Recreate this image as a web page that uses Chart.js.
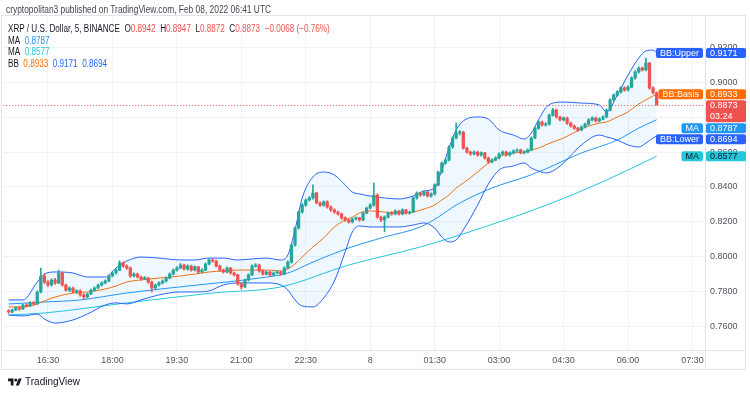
<!DOCTYPE html>
<html>
<head>
<meta charset="utf-8">
<title>XRP / U.S. Dollar, 5, BINANCE</title>
<script src="https://cdn.jsdelivr.net/npm/chart.js@4.4.1/dist/chart.umd.min.js"></script>
<style>
  html, body { margin: 0; padding: 0; background: #fff; }
  #wrap { position: relative; width: 750px; height: 394px; overflow: hidden; font-family: 'Liberation Sans', Arial, sans-serif; }
  #chart { position: absolute; left: 0; top: 0; }
  .txt { position: absolute; white-space: nowrap; transform-origin: 0 50%; color: #131722; font-size: 10px; line-height: 12px; }
  .dn { color: #ef5350; }
  .ma1 { color: #2196f3; }
  .ma2 { color: #26c6da; }
  .bbb { color: #ff6d00; }
  .bbu { color: #2962ff; }
  #brand { position: absolute; left: 8px; top: 376px; display: flex; align-items: center; gap: 3px; font-size: 10px; color: #131722; }
</style>
</head>
<body>
<div id="wrap">
  <canvas id="chart" width="750" height="394"></canvas>
  <div id="published" class="txt" style="left:6px;top:4px;color:#434651">cryptopolitan3 published on TradingView.com, Feb 08, 2022 06:41 UTC</div>
  <div id="leg1" class="txt" style="left:8px;top:22.5px">XRP / U.S. Dollar, 5, BINANCE&nbsp;&nbsp;O<span class="dn">0.8942</span>&nbsp;&nbsp;H<span class="dn">0.8947</span>&nbsp;&nbsp;L<span class="dn">0.8872</span>&nbsp;&nbsp;C<span class="dn">0.8873</span>&nbsp;&nbsp;<span class="dn">−0.0068 (−0.76%)</span></div>
  <div id="leg2" class="txt" style="left:8px;top:34.7px">MA&nbsp;&nbsp;<span class="ma1">0.8787</span></div>
  <div id="leg3" class="txt" style="left:8px;top:46.3px">MA&nbsp;&nbsp;<span class="ma2">0.8577</span></div>
  <div id="leg4" class="txt" style="left:8px;top:58px">BB&nbsp;&nbsp;<span class="bbb">0.8933</span>&nbsp;&nbsp;<span class="bbu">0.9171</span>&nbsp;&nbsp;<span class="bbu">0.8694</span></div>
  <div id="brand">
    <svg width="14" height="10" viewBox="0 0 36 26"><path d="M14 22H7V11H0V4h14v18z" fill="#131722"/><circle cx="20" cy="8" r="4" fill="#131722"/><path d="M28 22h-8l7.5-18h8L28 22z" fill="#131722"/></svg>
    <span>TradingView</span>
  </div>
</div>

<script>
// ── Candles (5 min bars, 15:35 → 06:40) ──
const opens = [
  .7686,.7681,.7692,.7704,.7698,.7721,.7715,.7733,.7727,.7796,
  .7888,.7853,.7836,.7865,.7848,.7905,.7836,.7807,.7819,.7796,
  .7802,.7779,.7767,.7784,.7807,.7819,.7836,.7848,.7859,.7888,
  .7905,.7922,.7963,.7945,.7934,.7888,.7899,.7882,.7871,.7876,
  .7853,.7819,.7836,.7848,.7859,.7876,.7899,.7922,.7934,.7951,
  .7928,.7945,.7922,.7940,.7911,.7922,.7957,.7980,.7974,.7945,
  .7922,.7911,.7934,.7905,.7894,.7842,.7825,.7865,.7894,.7945,
  .7951,.7917,.7899,.7911,.7894,.7905,.7911,.7899,.7934,.7968,
  .8066,.8164,.8256,.8296,.8325,.8337,.8365,.8308,.8296,.8314,
  .8285,.8268,.8256,.8245,.8222,.8210,.8199,.8216,.8222,.8210,
  .8250,.8279,.8296,.8354,.8227,.8210,.8227,.8250,.8245,.8262,
  .8245,.8268,.8250,.8256,.8337,.8365,.8354,.8371,.8348,.8360,
  .8412,.8486,.8538,.8555,.8630,.8682,.8711,.8716,.8624,.8601,
  .8590,.8601,.8584,.8596,.8567,.8544,.8555,.8567,.8590,.8601,
  .8584,.8596,.8607,.8613,.8596,.8601,.8613,.8682,.8739,.8774,
  .8757,.8762,.8814,.8843,.8803,.8786,.8797,.8768,.8751,.8739,
  .8728,.8745,.8762,.8786,.8797,.8780,.8791,.8803,.8843,.8901,
  .8929,.8947,.8970,.8958,.8975,.9027,.9062,.9085,.9073,.9113,
  .8970,.8942
];
const highs = [
  .7694,.7698,.7710,.7712,.7726,.7729,.7740,.7741,.7802,.7934,
  .7899,.7862,.7871,.7874,.7922,.7910,.7842,.7826,.7824,.7810,
  .7808,.7785,.7790,.7812,.7825,.7841,.7855,.7866,.7894,.7912,
  .7930,.7975,.7970,.7952,.7940,.7906,.7905,.7888,.7884,.7880,
  .7858,.7842,.7855,.7866,.7882,.7906,.7928,.7942,.7960,.7956,
  .7952,.7950,.7947,.7944,.7930,.7964,.7988,.7986,.7979,.7950,
  .7928,.7940,.7938,.7910,.7898,.7848,.7870,.7900,.7952,.7960,
  .7956,.7922,.7918,.7915,.7912,.7918,.7915,.7940,.7975,.8072,
  .8170,.8262,.8305,.8332,.8345,.8412,.8370,.8314,.8320,.8320,
  .8292,.8274,.8262,.8250,.8228,.8216,.8222,.8228,.8226,.8256,
  .8285,.8304,.8423,.8360,.8232,.8234,.8256,.8258,.8268,.8266,
  .8274,.8272,.8262,.8344,.8372,.8370,.8378,.8375,.8366,.8418,
  .8492,.8545,.8562,.8638,.8690,.8768,.8724,.8720,.8630,.8606,
  .8608,.8606,.8602,.8600,.8572,.8562,.8574,.8596,.8608,.8606,
  .8603,.8614,.8620,.8618,.8608,.8620,.8688,.8746,.8782,.8780,
  .8770,.8820,.8852,.8848,.8808,.8804,.8802,.8774,.8756,.8744,
  .8752,.8768,.8792,.8804,.8802,.8798,.8810,.8850,.8908,.8936,
  .8955,.8978,.8976,.8982,.9034,.9070,.9092,.9090,.9142,.9118,
  .8976,.8947
];
const lows = [
  .7672,.7676,.7688,.7690,.7694,.7708,.7711,.7720,.7724,.7790,
  .7845,.7828,.7830,.7840,.7843,.7830,.7800,.7798,.7790,.7788,
  .7772,.7758,.7762,.7780,.7801,.7815,.7830,.7842,.7855,.7882,
  .7898,.7918,.7938,.7926,.7880,.7882,.7876,.7864,.7866,.7846,
  .7796,.7812,.7830,.7842,.7853,.7871,.7894,.7916,.7928,.7921,
  .7922,.7916,.7917,.7905,.7906,.7918,.7952,.7966,.7940,.7915,
  .7904,.7906,.7898,.7888,.7835,.7812,.7820,.7860,.7890,.7938,
  .7910,.7892,.7894,.7888,.7890,.7900,.7892,.7895,.7930,.7962,
  .8060,.8158,.8250,.8290,.8318,.8330,.8302,.8288,.8290,.8278,
  .8260,.8248,.8238,.8215,.8202,.8192,.8194,.8210,.8204,.8206,
  .8246,.8274,.8290,.8220,.8200,.8141,.8222,.8238,.8240,.8238,
  .8240,.8244,.8244,.8252,.8330,.8346,.8348,.8342,.8342,.8355,
  .8406,.8480,.8530,.8550,.8624,.8676,.8700,.8618,.8594,.8582,
  .8584,.8578,.8578,.8560,.8536,.8538,.8550,.8562,.8584,.8578,
  .8578,.8590,.8600,.8590,.8590,.8596,.8608,.8676,.8732,.8750,
  .8750,.8756,.8808,.8796,.8780,.8780,.8760,.8744,.8732,.8720,
  .8722,.8740,.8756,.8780,.8774,.8774,.8786,.8798,.8838,.8895,
  .8922,.8940,.8950,.8952,.8970,.9020,.9055,.9066,.9068,.8962,
  .8936,.8872
];
const closes = [
  .7681,.7692,.7704,.7698,.7721,.7715,.7733,.7727,.7796,.7888,
  .7853,.7836,.7865,.7848,.7905,.7836,.7807,.7819,.7796,.7802,
  .7779,.7767,.7784,.7807,.7819,.7836,.7848,.7859,.7888,.7905,
  .7922,.7963,.7945,.7934,.7888,.7899,.7882,.7871,.7876,.7853,
  .7819,.7836,.7848,.7859,.7876,.7899,.7922,.7934,.7951,.7928,
  .7945,.7922,.7940,.7911,.7922,.7957,.7980,.7974,.7945,.7922,
  .7911,.7934,.7905,.7894,.7842,.7825,.7865,.7894,.7945,.7951,
  .7917,.7899,.7911,.7894,.7905,.7911,.7899,.7934,.7968,.8066,
  .8164,.8256,.8296,.8325,.8337,.8365,.8308,.8296,.8314,.8285,
  .8268,.8256,.8245,.8222,.8210,.8199,.8216,.8222,.8210,.8250,
  .8279,.8296,.8354,.8227,.8210,.8227,.8250,.8245,.8262,.8245,
  .8268,.8250,.8256,.8337,.8365,.8354,.8371,.8348,.8360,.8412,
  .8486,.8538,.8555,.8630,.8682,.8711,.8716,.8624,.8601,.8590,
  .8601,.8584,.8596,.8567,.8544,.8555,.8567,.8590,.8601,.8584,
  .8596,.8607,.8613,.8596,.8601,.8613,.8682,.8739,.8774,.8757,
  .8762,.8814,.8843,.8803,.8786,.8797,.8768,.8751,.8739,.8728,
  .8745,.8762,.8786,.8797,.8780,.8791,.8803,.8843,.8901,.8929,
  .8947,.8970,.8958,.8975,.9027,.9062,.9085,.9073,.9113,.8970,
  .8942,.8873
];

// ── Bollinger Bands (read at these bar indices) ──
const bbIdx   = [0,4,8,10,13,18,22,27,30,33,37,42,48,52,56,60,64,68,72,76,78,80,82,85,88,91,94,96,98,101,105,109,113,116,119,121,123,125,127,131,134,137,141,144,146,148,150,152,155,160,165,167,170,173,176,178,180,181];
const bbUpper = [.7750,.7750,.7853,.7899,.7911,.7905,.7882,.7882,.7934,.7974,.7997,.7991,.7980,.7980,.7991,.7991,.7980,.7986,.7991,.7980,.8009,.8153,.8337,.8458,.8486,.8469,.8412,.8371,.8360,.8348,.8337,.8331,.8348,.8377,.8394,.8498,.8624,.8728,.8780,.8803,.8791,.8728,.8699,.8676,.8711,.8786,.8855,.8883,.8889,.8883,.8872,.8832,.8929,.9044,.9142,.9183,.9188,.9171];
const bbBasis = [.7710,.7710,.7727,.7744,.7767,.7790,.7796,.7813,.7830,.7853,.7865,.7876,.7888,.7899,.7911,.7917,.7922,.7922,.7922,.7917,.7928,.7957,.7997,.8055,.8107,.8170,.8210,.8227,.8250,.8262,.8256,.8250,.8256,.8273,.8296,.8325,.8354,.8394,.8423,.8486,.8538,.8573,.8596,.8601,.8613,.8624,.8642,.8659,.8682,.8734,.8768,.8774,.8803,.8832,.8878,.8901,.8924,.8933];
const bbLower = [.7663,.7658,.7669,.7640,.7617,.7635,.7669,.7721,.7733,.7727,.7750,.7779,.7796,.7796,.7802,.7836,.7848,.7848,.7848,.7836,.7807,.7750,.7715,.7710,.7761,.7859,.8026,.8141,.8176,.8170,.8170,.8170,.8181,.8193,.8164,.8112,.8084,.8095,.8153,.8296,.8417,.8498,.8521,.8538,.8509,.8492,.8481,.8492,.8538,.8642,.8699,.8688,.8670,.8642,.8630,.8653,.8682,.8694];

// ── Moving averages ──
const maIdx  = [0,10,20,33,50,70,78,85,95,105,115,120,125,135,145,150,160,170,176,181];
const maFast = [.7727,.7738,.7750,.7790,.7830,.7876,.7905,.7968,.8049,.8112,.8170,.8227,.8296,.8394,.8463,.8504,.8596,.8670,.8739,.8787];
const ma2Idx = [0,10,33,57,76,95,115,132,151,167,181];
const maSlow = [.7663,.7675,.7733,.7790,.7825,.7951,.8055,.8164,.8302,.8440,.8577];

// ── Axis ──
const tickTimes = ['16:30','18:00','19:30','21:00','22:30','00:00','01:30','03:00','04:30','06:00','07:30'];
const tickText  = ['16:30','18:00','19:30','21:00','22:30','8','01:30','03:00','04:30','06:00','07:30'];
const priceMin = 0.7462, priceMax = 0.9384;
const lastClose = 0.8873;

const UP = '#26a69a', DOWN = '#ef5350';
const FONT = "'Liberation Sans', Arial, sans-serif";
const LEAD = 1;   // one empty slot before the first candle

// 15:30 → 07:45 in 5 min steps
const timeLabels = [];
for (let k = 0, m = 15 * 60 + 30; k < 196; k++, m += 5) {
  const t = m % 1440;
  timeLabels.push(String(Math.floor(t / 60)).padStart(2, '0') + ':' + String(t % 60).padStart(2, '0'));
}

const slot = (arr, fn) => timeLabels.map((_, k) => {
  const i = k - LEAD;
  return (i >= 0 && i < arr.length) ? fn(i) : null;
});
const candleColor = slot(closes, i => closes[i] >= opens[i] ? UP : DOWN);

const linePts = (idx, vals) => idx.map((k, j) => ({ x: timeLabels[k + LEAD], y: vals[j] }));
const lineDs = (idx, vals, color, extra) => Object.assign({
  type: 'line',
  data: linePts(idx, vals),
  borderColor: color,
  borderWidth: 1,
  pointRadius: 0,
  cubicInterpolationMode: 'monotone',
  fill: false,
}, extra);

// ══════════════════════════════════════════════
// SIDE LABELS + FRAME
// ══════════════════════════════════════════════
const sideLabels = [
  { name: 'BB:Upper', value: bbUpper[bbUpper.length - 1], bg: '#2962ff', fg: '#fff' },
  { name: 'BB:Basis', value: bbBasis[bbBasis.length - 1], bg: '#ff6d00', fg: '#fff' },
  { name: null,       value: lastClose, bg: '#ef5350', fg: '#fff', sub: '03:24' },
  { name: 'MA',       value: maFast[maFast.length - 1], bg: '#2196f3', fg: '#fff' },
  { name: 'BB:Lower', value: bbLower[bbLower.length - 1], bg: '#2962ff', fg: '#fff' },
  { name: 'MA',       value: maSlow[maSlow.length - 1], bg: '#26c6da', fg: '#131722' },
];

function box(ctx, x, y, w, h, color) {
  ctx.fillStyle = color;
  ctx.beginPath();
  if (ctx.roundRect) ctx.roundRect(x, y, w, h, 2); else ctx.rect(x, y, w, h);
  ctx.fill();
}

const tvOverlay = {
  id: 'tvOverlay',
  beforeDatasetsDraw(chart) {
    const { ctx, chartArea: a, scales: { y } } = chart;
    const py = Math.round(y.getPixelForValue(lastClose)) + 0.5;
    ctx.save();
    ctx.strokeStyle = '#ef5350';
    ctx.lineWidth = 1;
    ctx.setLineDash([1, 2]);
    ctx.beginPath(); ctx.moveTo(a.left, py); ctx.lineTo(a.right, py); ctx.stroke();
    ctx.restore();
  },
  afterDraw(chart) {
    const { ctx, chartArea: a, scales: { y } } = chart;
    ctx.save();
    // pane frame
    ctx.strokeStyle = '#e0e3eb';
    ctx.lineWidth = 1;
    ctx.strokeRect(1.5, 15.5, 744, 354);
    ctx.beginPath();
    ctx.moveTo(a.right + 0.5, a.top); ctx.lineTo(a.right + 0.5, 369);
    ctx.moveTo(a.left, a.bottom + 0.5); ctx.lineTo(745, a.bottom + 0.5);
    ctx.stroke();

    // stack labels so they do not overlap
    const items = sideLabels.map(l => {
      const c = y.getPixelForValue(l.value);
      const h = l.sub ? 22 : 10;
      return Object.assign({}, l, { top: l.sub ? c - 6 : c - h / 2, h });
    }).sort((p, q) => p.top - q.top);
    let bottom = -Infinity;
    items.forEach(it => {
      if (it.top < bottom + 1) it.top = bottom + 1;
      bottom = it.top + it.h;
    });

    ctx.font = '9px ' + FONT;
    ctx.textBaseline = 'middle';
    items.forEach(it => {
      box(ctx, a.right + 1, it.top, 40, it.h, it.bg);
      ctx.fillStyle = it.fg;
      ctx.textAlign = 'left';
      ctx.fillText(it.value.toFixed(4), a.right + 5, it.top + 5.5);
      if (it.sub) ctx.fillText(it.sub, a.right + 5, it.top + 16);
      if (it.name) {
        const w = ctx.measureText(it.name).width + 8;
        box(ctx, a.right - 2 - w, it.top, w, it.h, it.bg);
        ctx.fillStyle = it.fg;
        ctx.textAlign = 'center';
        ctx.fillText(it.name, a.right - 2 - w / 2, it.top + 5.5);
      }
    });
    ctx.restore();
  }
};

// ══════════════════════════════════════════════
// CHART
// ══════════════════════════════════════════════
function initChart() {
  Chart.defaults.font.family = FONT;
  Chart.defaults.font.size = 9;

  new Chart(document.getElementById('chart'), {
    type: 'bar',
    data: {
      labels: timeLabels,
      datasets: [
        {
          data: slot(closes, i => [opens[i], closes[i]]),
          backgroundColor: candleColor,
          barThickness: 2.6,
          minBarLength: 1,
          grouped: false,
          order: 0,
        },
        {
          data: slot(closes, i => [lows[i], highs[i]]),
          backgroundColor: candleColor,
          barThickness: 1,
          grouped: false,
          order: 1,
        },
        lineDs(bbIdx, bbUpper, '#2962ff', { order: 2, fill: { target: 4 }, backgroundColor: 'rgba(33,150,243,0.07)' }),
        lineDs(bbIdx, bbBasis, '#ff6d00', { order: 3 }),
        lineDs(bbIdx, bbLower, '#2962ff', { order: 4 }),
        lineDs(maIdx, maFast, '#2196f3', { order: 5 }),
        lineDs(ma2Idx, maSlow, '#26c6da', { order: 6 }),
      ]
    },
    options: {
      responsive: false,
      animation: false,
      layout: { padding: { left: 2, top: 16, right: 5, bottom: 25 } },
      plugins: { legend: { display: false }, tooltip: { enabled: false } },
      scales: {
        x: {
          offset: true,
          grid: {
            offset: false,
            drawTicks: false,
            color: c => tickTimes.includes(timeLabels[c.index]) ? '#f0f3fa' : 'rgba(0,0,0,0)',
          },
          border: { color: '#e0e3eb' },
          ticks: {
            autoSkip: false,
            maxRotation: 0,
            minRotation: 0,
            padding: 5,
            color: '#50535e',
            callback: (v, i) => {
              const k = tickTimes.indexOf(timeLabels[i]);
              return k >= 0 ? tickText[k] : '';
            },
          },
          afterFit: s => { s.height = 19; },
        },
        y: {
          position: 'right',
          min: priceMin,
          max: priceMax,
          grid: { color: '#f0f3fa', drawTicks: false },
          border: { color: '#e0e3eb' },
          ticks: {
            stepSize: 0.02,
            includeBounds: false,
            padding: 5,
            color: '#50535e',
            callback: v => v.toFixed(4),
          },
          afterFit: s => { s.width = 40; },
        },
      },
    },
    plugins: [tvOverlay],
  });
}

// ══════════════════════════════════════════════
// HEADER TEXT WIDTHS
// ══════════════════════════════════════════════
function fitHeader() {
  const pub = document.getElementById('published');
  pub.style.transform = `scaleX(${265 / pub.offsetWidth})`;
  const leg1 = document.getElementById('leg1');
  const s = 322 / leg1.offsetWidth;
  ['leg1', 'leg2', 'leg3', 'leg4'].forEach(id => {
    document.getElementById(id).style.transform = `scaleX(${s})`;
  });
}

initChart();
fitHeader();
</script>
</body>
</html>
